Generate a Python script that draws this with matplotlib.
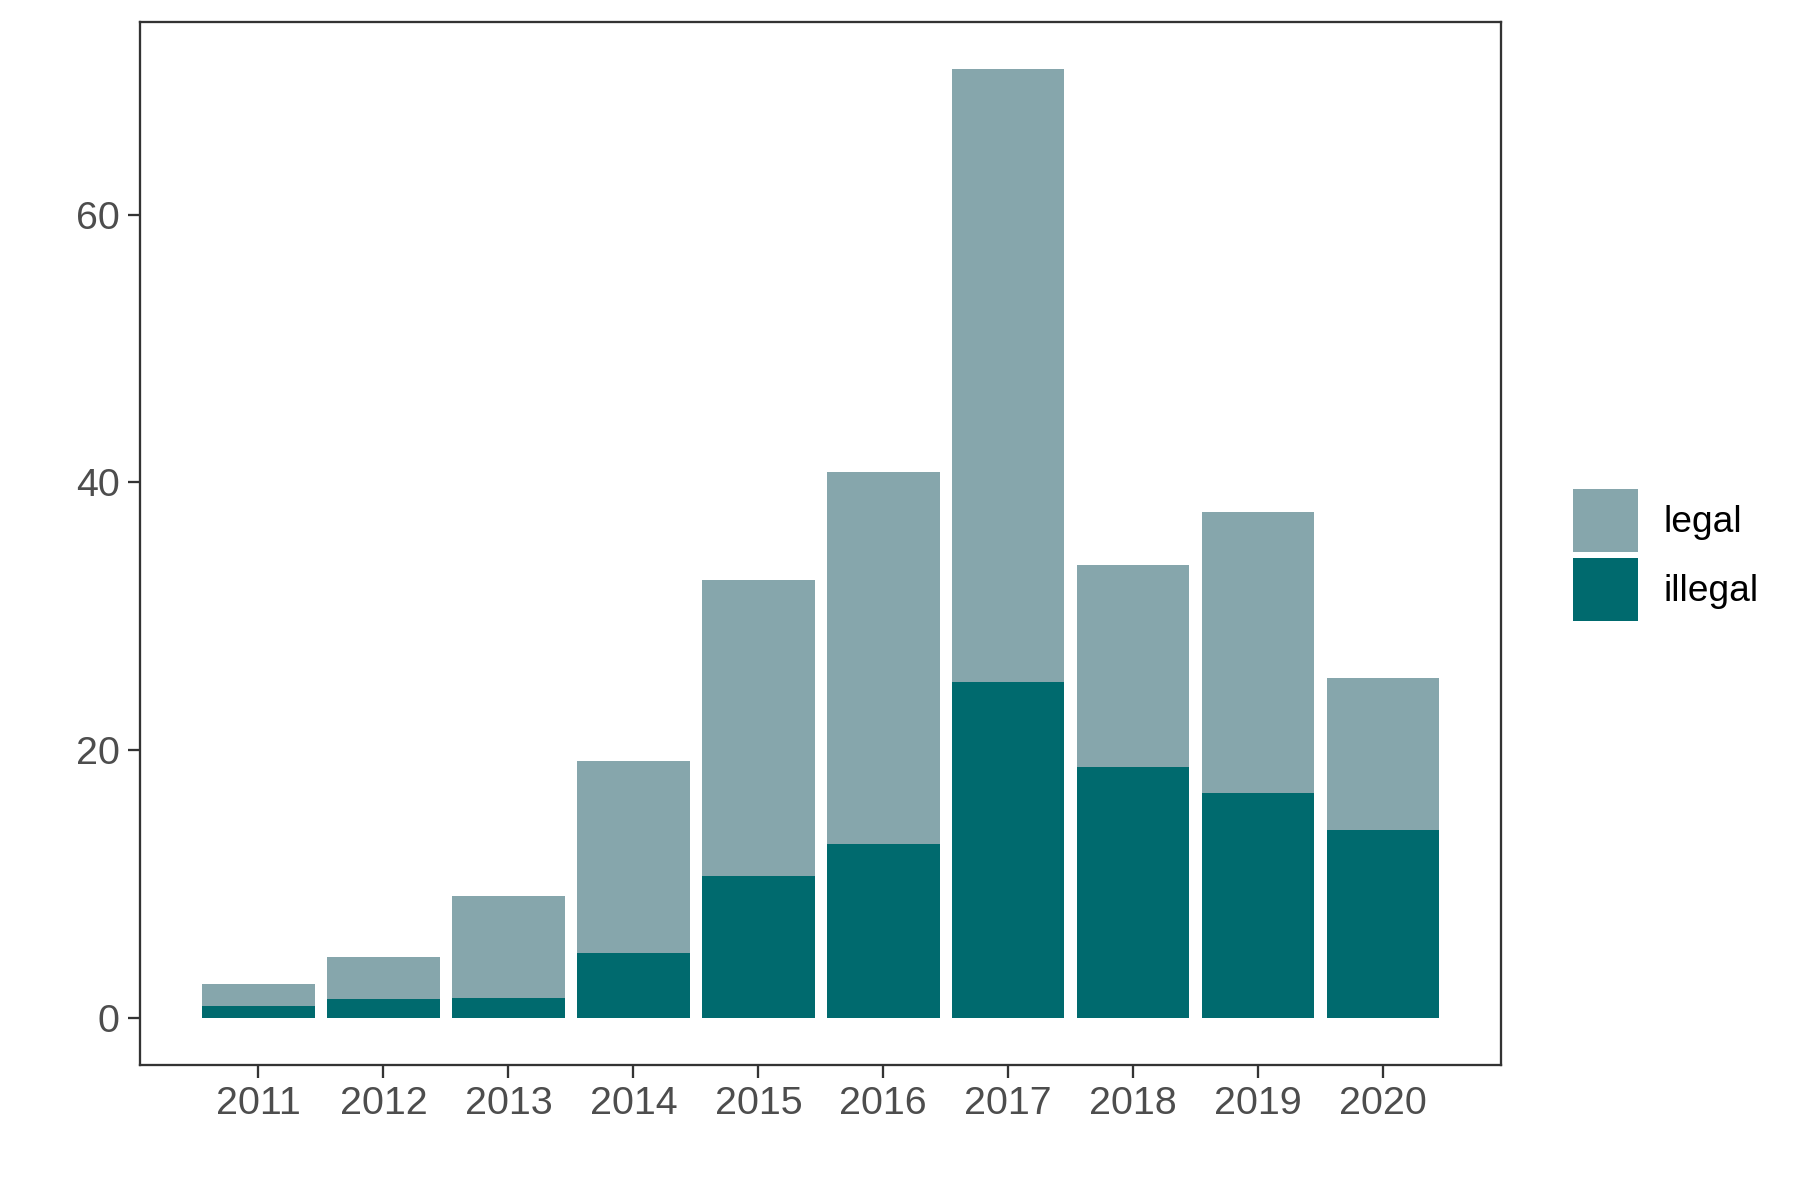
import matplotlib.pyplot as plt
from matplotlib.patches import Patch

plt.rcParams['font.family'] = ['Liberation Sans', 'DejaVu Sans']

years = [2011, 2012, 2013, 2014, 2015, 2016, 2017, 2018, 2019, 2020]
illegal = [0.9, 1.4, 1.5, 4.8, 10.6, 13.0, 25.1, 18.7, 16.8, 14.0]
legal = [1.6, 3.1, 7.6, 14.4, 22.1, 27.8, 45.8, 15.1, 21.0, 11.4]

col_legal = '#86A6AC'
col_illegal = '#006A6E'
edge = '#333333'
tick_col = '#4D4D4D'

fig = plt.figure(figsize=(12, 8), dpi=150)
ax = fig.add_axes([0.078, 0.1125, 0.756, 0.8695])

ax.bar(years, illegal, width=0.9, color=col_illegal, linewidth=0)
ax.bar(years, legal, width=0.9, bottom=illegal, color=col_legal, linewidth=0)

totals = [a + b for a, b in zip(illegal, legal)]
top = max(totals)
ax.set_ylim(-0.05 * top, top * 1.05)
span = (years[-1] + 0.45) - (years[0] - 0.45)
ax.set_xlim(years[0] - 0.45 - 0.05 * span, years[-1] + 0.45 + 0.05 * span)

ax.set_xticks(years)
ax.set_xticklabels([str(y) for y in years])
ax.set_yticks([0, 20, 40, 60])
ax.tick_params(axis='both', length=6, width=1.1, color=edge, labelcolor=tick_col,
               labelsize=18.9, pad=4)
for s in ax.spines.values():
    s.set_color(edge)
    s.set_linewidth(1.1)

handles = [Patch(facecolor=col_legal, edgecolor='none', label='legal'),
           Patch(facecolor=col_illegal, edgecolor='none', label='illegal')]
fig.legend(handles=handles, loc='center left', bbox_to_anchor=(0.8737, 0.5375),
           frameon=False, fontsize=17.8, handlelength=1.75, handleheight=2.23,
           labelspacing=0.17, handletextpad=0.7, borderpad=0, borderaxespad=0)

fig.savefig('out.png', dpi=150)
